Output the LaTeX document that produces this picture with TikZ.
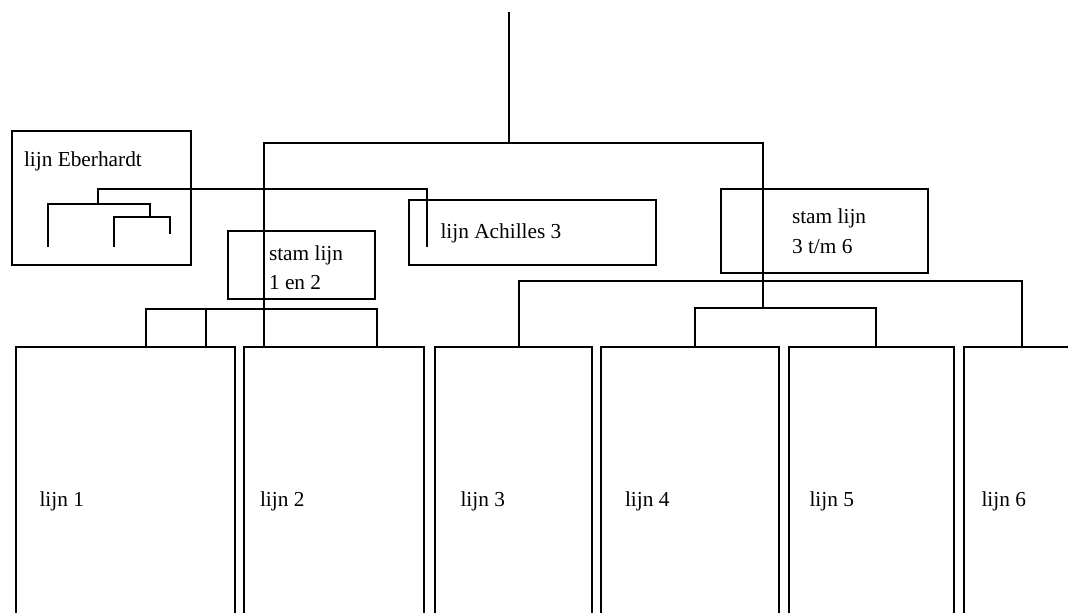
\documentclass[tikz,border=0pt]{standalone}
\usepackage{fontspec}
\setmainfont{Liberation Serif}
\usetikzlibrary{fit}
\begin{document}
\begin{tikzpicture}[x=0.75pt,y=-0.75pt,
  line width=1.5pt, line cap=rect,
  box/.style={draw, rectangle, inner sep=0pt, line width=1.5pt},
  lbl/.style={anchor=base west, inner sep=0pt, font=\fontsize{16}{20}\selectfont}]
\useasboundingbox (0,0) rectangle (1068,612);
\clip (0,0) rectangle (1068,612);
% boxes
\node[box, fit={(12,131) (191,265)}] (ebh) {};
\node[box, fit={(228,231) (375,299)}] (s12) {};
\node[box, fit={(409,200) (656,265)}] (ach) {};
\node[box, fit={(721,189) (928,273)}] (s36) {};
\node[box, fit={(16,347) (235,650)}] (l1) {};
\node[box, fit={(244,347) (424,650)}] (l2) {};
\node[box, fit={(435,347) (592,650)}] (l3) {};
\node[box, fit={(601,347) (779,650)}] (l4) {};
\node[box, fit={(789,347) (954,650)}] (l5) {};
\node[box, fit={(964,347) (1100,650)}] (l6) {};
% texts
\node[lbl] (tebh) at (23,166) {lijn Eberhardt};
\node[lbl] (ts12a) at (268,260) {stam lijn};
\node[lbl] (ts12b) at (268,289) {1 en 2};
\node[lbl] (tach) at (439.5,238.5) {lijn Achilles 3};
\node[lbl] (ts36a) at (791,223.5) {stam lijn};
\node[lbl] (ts36b) at (791,253.5) {3 t/m 6};
\node[lbl] (tl1) at (38.5,506) {lijn 1};
\node[lbl] (tl2) at (259,506) {lijn 2};
\node[lbl] (tl3) at (459.5,506) {lijn 3};
\node[lbl] (tl4) at (624,506) {lijn 4};
\node[lbl] (tl5) at (808.5,506) {lijn 5};
\node[lbl] (tl6) at (980.5,506) {lijn 6};
% main tree
\coordinate (top) at (509,13);
\coordinate (mainL) at (264,143);
\coordinate (mainR) at (763,143);
\coordinate (sub45) at (763,308);
\coordinate (b4) at (695,308);
\coordinate (b5) at (876,308);
\draw (top) -- (top |- mainL);
\draw (mainL |- l2.north) -- (mainL) -- (mainR) -- (sub45);
\draw (b4 |- l4.north) -- (b4) -- (b5) -- (b5 |- l5.north);
% stam 1 en 2 tree
\coordinate (a1) at (146,309);
\coordinate (a2) at (206,309);
\coordinate (a3) at (377,309);
\draw (a1 |- l1.north) -- (a1) -- (a3) -- (a3 |- l2.north);
\draw (a2) -- (a2 |- l1.north);
% stam 3 t/m 6 tree
\coordinate (c1) at (519,281);
\coordinate (c2) at (1022,281);
\draw (c1 |- l3.north) -- (c1) -- (c2) -- (c2 |- l6.north);
% Eberhardt / Achilles
\coordinate (e0) at (98,204);
\coordinate (e1) at (98,189);
\coordinate (e2) at (427,189);
\coordinate (e3) at (427,246);
\draw (e0) -- (e1) -- (e2) -- (e3);
% small tree inside Eberhardt box
\coordinate (f1) at (48,246);
\coordinate (f2) at (48,204);
\coordinate (f3) at (150,204);
\coordinate (f4) at (150,217);
\coordinate (g1) at (114,246);
\coordinate (g2) at (114,217);
\coordinate (g3) at (170,217);
\coordinate (g4) at (170,233);
\draw (f1) -- (f2) -- (f3) -- (f4);
\draw (g1) -- (g2) -- (g3) -- (g4);
\end{tikzpicture}
\end{document}
